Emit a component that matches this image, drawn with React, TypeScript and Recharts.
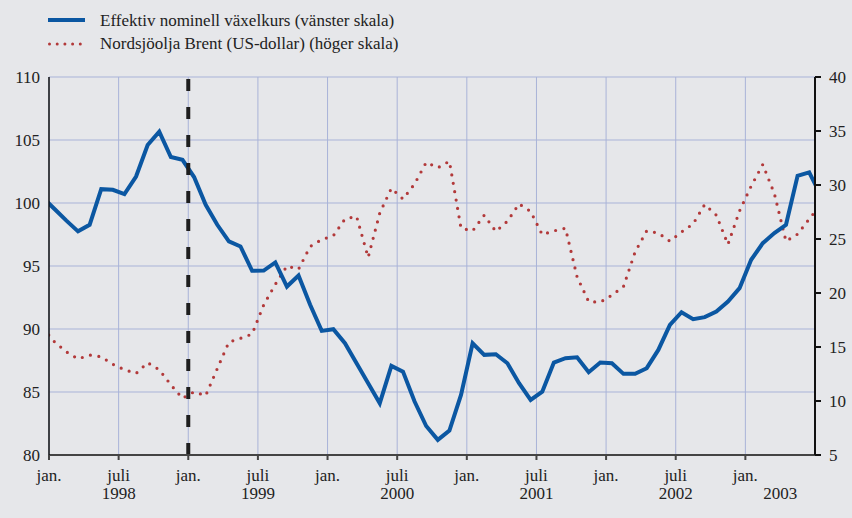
import React from "react";
import { LineChart, Line, XAxis, YAxis, CartesianGrid, ReferenceLine } from "recharts";

// månadsvärden dec 1997 – jul 2003 (ritas mitt i månaden, klipps vid axlarna)
const kronaIndex = [
  100.4, 99.5, 98.6, 97.75, 98.27, 101.1, 101.05, 100.7, 102.1, 104.6, 105.66, 103.65, 103.43,
  102.06, 99.86, 98.27, 96.95, 96.55, 94.62, 94.64, 95.28, 93.37, 94.25, 91.92, 89.85,
  89.98, 88.87, 87.28, 85.7, 84.11, 87.07, 86.62, 84.24, 82.3, 81.2, 81.94, 84.77,
  88.87, 87.95, 88.0, 87.28, 85.7, 84.37, 85.03, 87.34, 87.68, 87.76, 86.57, 87.34,
  87.28, 86.44, 86.44, 86.89, 88.34, 90.33, 91.33, 90.78, 90.94, 91.39, 92.18, 93.24,
  95.49, 96.81, 97.61, 98.27, 102.16, 102.43, 100.6,
];

const brentUsd = [
  16.7, 15.45, 14.55, 13.9, 14.25, 14.1, 13.4, 12.9, 12.55, 13.55, 12.9, 11.5, 10.25,
  10.85, 10.5, 13.0, 15.45, 15.8, 16.2, 18.9, 20.8, 22.5, 22.2, 24.3, 24.95,
  25.3, 26.85, 27.1, 23.3, 27.4, 29.7, 28.7, 30.1, 32.1, 31.6, 32.2, 26.0,
  25.75, 27.2, 25.7, 26.65, 28.25, 27.55, 25.4, 25.75, 26.0, 21.5, 19.2, 19.15,
  19.8, 20.6, 23.8, 25.75, 25.55, 24.8, 25.65, 26.4, 28.2, 27.2, 24.5, 27.6,
  29.9, 31.9, 29.2, 24.8, 25.45, 26.85, 28.2,
];

const xTicks = [0, 6, 12, 18, 24, 30, 36, 42, 48, 54, 60];
const tickTop = ["jan.", "juli", "jan.", "juli", "jan.", "juli", "jan.", "juli", "jan.", "juli", "jan."];
const tickYear = ["", "1998", "", "1999", "", "2000", "", "2001", "", "2002", "2003"];
const leftTicks = [80, 85, 90, 95, 100, 105, 110];
const rightTicks = [5, 10, 15, 20, 25, 30, 35, 40];
const euroStart = 12; // jan 1999

const data = kronaIndex.map((v, i) => ({ t: i - 0.5, krona: v, brent: brentUsd[i] }));

const FONT = '"Liberation Serif", "Times New Roman", serif';
const BLUE = "#0b57a2";
const RED = "#b2393a";
const GRID = "#a9b3d8";
const BG = "#e6e7ea";

function MonthTick(props: any) {
  const { x, y, index } = props;
  const i = index ?? xTicks.indexOf(props.payload.value);
  const last = i === xTicks.length - 1;
  return (
    <g fontFamily={FONT} fontSize={17} fill="#222">
      <text x={x} y={y + 19} textAnchor="middle">
        {tickTop[i]}
      </text>
      {tickYear[i] && (
        <text x={last ? x + 35 : x} y={y + 37} textAnchor="middle">
          {tickYear[i]}
        </text>
      )}
    </g>
  );
}

export default function App() {
  return (
    <div
      style={{
        position: "absolute",
        left: 0,
        top: 0,
        width: 852,
        height: 518,
        background: BG,
        fontFamily: FONT,
        color: "#222",
      }}
    >
      {/* teckenförklaring */}
      <div style={{ position: "absolute", left: 48, top: 9, fontSize: 17, lineHeight: "23px" }}>
        <div style={{ display: "flex", alignItems: "center" }}>
          <svg width={52} height={23}>
            <line x1={0} y1={11} x2={37} y2={11} stroke={BLUE} strokeWidth={4} />
          </svg>
          <span>Effektiv nominell växelkurs (vänster skala)</span>
        </div>
        <div style={{ display: "flex", alignItems: "center" }}>
          <svg width={52} height={23}>
            <line
              x1={1.5}
              y1={12}
              x2={37}
              y2={12}
              stroke={RED}
              strokeWidth={3}
              strokeDasharray="0 7.7"
              strokeLinecap="round"
            />
          </svg>
          <span>Nordsjöolja Brent (US-dollar) (höger skala)</span>
        </div>
      </div>

      <LineChart
        width={852}
        height={518}
        data={data}
        margin={{ top: 77, right: 0, bottom: 0, left: 0 }}
        style={{ position: "absolute", left: 0, top: 0 }}
      >
        <CartesianGrid yAxisId="left" stroke={GRID} strokeWidth={1} />
        <XAxis
          dataKey="t"
          type="number"
          domain={[0, 66]}
          allowDataOverflow
          ticks={xTicks}
          interval={0}
          height={63}
          tickSize={5}
          tickMargin={2}
          stroke="#444"
          strokeWidth={2}
          tick={<MonthTick />}
        />
        <YAxis
          yAxisId="left"
          domain={[80, 110]}
          ticks={leftTicks}
          width={49}
          tickLine={false}
          tickSize={6}
          tickMargin={3}
          stroke="#111"
          strokeWidth={1.5}
          tick={{ fill: "#222", fontSize: 17, fontFamily: FONT }}
        />
        <YAxis
          yAxisId="right"
          orientation="right"
          domain={[5, 40]}
          ticks={rightTicks}
          width={37}
          tickSize={6}
          tickMargin={8}
          stroke="#111"
          strokeWidth={2}
          tick={{ fill: "#222", fontSize: 17, fontFamily: FONT }}
        />
        <Line
          yAxisId="right"
          dataKey="brent"
          type="linear"
          stroke={RED}
          strokeWidth={3.2}
          strokeDasharray="0 8.5"
          strokeLinecap="round"
          dot={false}
          isAnimationActive={false}
        />
        <Line
          yAxisId="left"
          dataKey="krona"
          type="linear"
          stroke={BLUE}
          strokeWidth={4}
          dot={false}
          isAnimationActive={false}
        />
        <ReferenceLine
          yAxisId="left"
          x={euroStart}
          stroke="#1e1e1e"
          strokeWidth={4}
          strokeDasharray="12 16"
        />
      </LineChart>
    </div>
  );
}
